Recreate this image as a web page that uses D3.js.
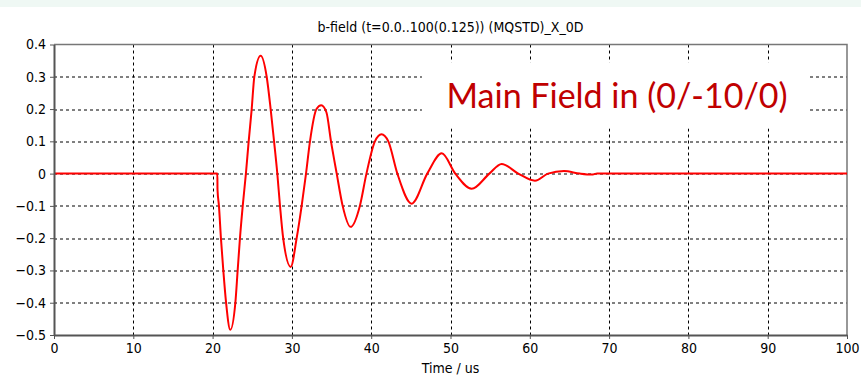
<!DOCTYPE html>
<html lang="en">
<head>
    <meta charset="UTF-8">
    <title>b-field</title>
    <script src="https://cdnjs.cloudflare.com/ajax/libs/d3/7.8.5/d3.min.js"></script>
    <style>
        html, body { margin: 0; padding: 0; background: #fff; }
        svg { display: block; }
    </style>
</head>
<body>
    <div id="wrapper"></div>
    <script>
        // values (time in us, field value)
        const times = [0, 20.6, 20.62, 20.8, 21.05, 21.35, 21.7, 22.23, 22.87, 23.16, 23.45, 23.8, 24.2, 24.55, 24.93, 25.26,
            26.06, 26.82, 27.32, 27.75, 28.16, 28.5, 28.9, 29.85, 30.6, 31.23, 31.78, 32.28, 33.1, 33.7, 34.35, 34.93,
            35.65, 36.4, 37.4, 38.57, 39.4, 40.47, 41.3, 42.16, 43.3, 45.1, 47.07, 48.9, 50.6, 52.67, 54.9, 56.45,
            58.55, 60.65, 62.3, 64.3, 66.3, 67.8, 68.5, 100]
        const values = [0, 0, -0.05, -0.1, -0.2, -0.3, -0.4, -0.484, -0.4, -0.3, -0.2, -0.1, 0, 0.1, 0.2, 0.3,
            0.365, 0.3, 0.2, 0.1, 0, -0.1, -0.2, -0.289, -0.2, -0.1, 0, 0.1, 0.2, 0.212, 0.19, 0.1,
            0, -0.1, -0.165, -0.1, 0, 0.1, 0.122, 0.1, 0, -0.093, 0, 0.063, 0, -0.047, 0, 0.03,
            0, -0.022, 0, 0.008, 0, -0.003, 0, 0]
        const xTicks = [0, 10, 20, 30, 40, 50, 60, 70, 80, 90, 100]
        const yTicks = [0.4, 0.3, 0.2, 0.1, 0, -0.1, -0.2, -0.3, -0.4, -0.5]
        const titleText = 'b-field (t=0.0..100(0.125)) (MQSTD)_X_0D'
        const xLabelText = 'Time / us'
        const noteText = 'Main Field in (0/-10/0)'

        const dataset = times.map((t, i) => [t, values[i]])
        const xAccessor = d => d[0]
        const yAccessor = d => d[1]

        const labelFont = 'Tahoma, "DejaVu Sans Condensed", sans-serif'

        const dimensions = {
            width: 861,
            height: 379,
            margin: { top: 44.5, right: 14, bottom: 44, left: 54 }
        }
        dimensions.boundedWidth = dimensions.width - dimensions.margin.left - dimensions.margin.right
        dimensions.boundedHeight = dimensions.height - dimensions.margin.top - dimensions.margin.bottom

        const wrapper = d3.select('#wrapper')
            .append('svg')
                .attr('width', dimensions.width)
                .attr('height', dimensions.height)

        // light strip along the top edge
        wrapper.append('rect')
            .attr('width', dimensions.width)
            .attr('height', 7)
            .attr('fill', '#eff8f4')

        const bounds = wrapper.append('g')
            .attr('transform', `translate(${dimensions.margin.left},${dimensions.margin.top})`)

        const xScale = d3.scaleLinear()
            .domain([0, 100])
            .range([0, dimensions.boundedWidth])

        const yScale = d3.scaleLinear()
            .domain([-0.5, 0.4])
            .range([dimensions.boundedHeight, 0])

        // grid
        const grid = bounds.append('g')
            .attr('stroke', '#000')
            .attr('stroke-width', 1)
            .attr('stroke-dasharray', '3,3')
        grid.selectAll('.vgrid')
            .data(xTicks.slice(1, -1))
            .join('line')
                .attr('x1', d => Math.round(xScale(d)) + 0.5)
                .attr('x2', d => Math.round(xScale(d)) + 0.5)
                .attr('y1', 0)
                .attr('y2', dimensions.boundedHeight)
        grid.selectAll('.hgrid')
            .data(yTicks.slice(1, -1))
            .join('line')
                .attr('x1', 0)
                .attr('x2', dimensions.boundedWidth)
                .attr('y1', d => Math.round(yScale(d)) + 0.5)
                .attr('y2', d => Math.round(yScale(d)) + 0.5)

        // white box behind the note covers the grid
        bounds.append('rect')
            .attr('x', xScale(46.4))
            .attr('y', yScale(0.345))
            .attr('width', xScale(95.3) - xScale(46.4))
            .attr('height', yScale(0.14) - yScale(0.345))
            .attr('fill', '#fff')

        // frame on top and right
        bounds.append('path')
            .attr('d', `M0,0H${dimensions.boundedWidth}V${dimensions.boundedHeight}`)
            .attr('fill', 'none')
            .attr('stroke', '#777')
            .attr('stroke-width', 1.5)

        // curve
        const lineGenerator = d3.line()
            .x(d => xScale(xAccessor(d)))
            .y(d => yScale(yAccessor(d)))
            .curve(d3.curveMonotoneX)

        bounds.append('path')
            .attr('d', lineGenerator(dataset))
            .attr('fill', 'none')
            .attr('stroke', '#ff0000')
            .attr('stroke-width', 2)

        // axes
        const xAxisGenerator = d3.axisBottom(xScale)
            .tickValues(xTicks)
            .tickFormat(d3.format('d'))
            .tickSizeInner(4)
            .tickSizeOuter(0)
            .tickPadding(4)
        const xAxis = bounds.append('g')
            .attr('transform', `translate(0,${dimensions.boundedHeight})`)
            .call(xAxisGenerator)

        const yAxisGenerator = d3.axisLeft(yScale)
            .tickValues(yTicks)
            .tickFormat(d => d === 0 ? '0' : d3.format('.1f')(d))
            .tickSizeInner(4)
            .tickSizeOuter(0)
            .tickPadding(4)
        const yAxis = bounds.append('g')
            .call(yAxisGenerator)

        bounds.selectAll('.domain')
            .attr('stroke', '#555')
            .attr('stroke-width', 2)
        bounds.selectAll('.tick line')
            .attr('stroke', '#555')
        bounds.selectAll('.tick text')
            .attr('fill', '#000')
            .style('font-family', labelFont)
            .style('font-size', '14px')

        xAxis.append('text')
            .attr('x', dimensions.boundedWidth / 2)
            .attr('y', 38)
            .attr('fill', '#000')
            .style('font-family', labelFont)
            .style('font-size', '14px')
            .style('text-anchor', 'middle')
            .text(xLabelText)

        wrapper.append('text')
            .attr('x', dimensions.margin.left + dimensions.boundedWidth / 2)
            .attr('y', 32)
            .attr('fill', '#000')
            .style('font-family', labelFont)
            .style('font-size', '14px')
            .style('text-anchor', 'middle')
            .text(titleText)

        bounds.append('text')
            .attr('x', xScale(49.5))
            .attr('y', yScale(0.2) - 1)
            .attr('fill', '#c00000')
            .style('font-family', 'Lato, "Open Sans", sans-serif')
            .style('font-size', '34px')
            .text(noteText)
    </script>
</body>
</html>
